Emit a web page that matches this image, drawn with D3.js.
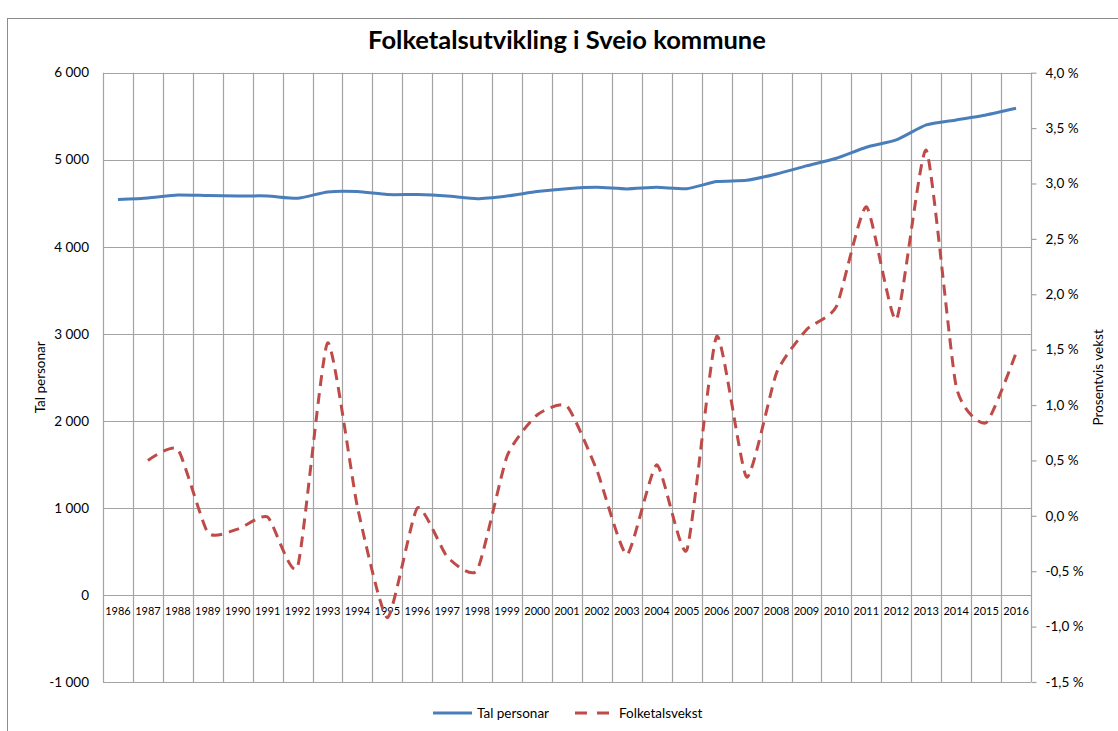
<!DOCTYPE html>
<html><head><meta charset="utf-8">
<script src="https://cdn.jsdelivr.net/npm/d3@7"></script>
<style>
html,body{margin:0;padding:0;background:#fff;}
svg{display:block;font-family:Lato,"Noto Sans",sans-serif;}
</style></head>
<body>
<svg id="c" width="1118" height="731"></svg>
<script>
const years = ["1986","1987","1988","1989","1990","1991","1992","1993","1994","1995","1996","1997","1998","1999","2000","2001","2002","2003","2004","2005","2006","2007","2008","2009","2010","2011","2012","2013","2014","2015","2016"];
const talPersonar = [4542,4561,4596,4588,4584,4584,4557,4630,4634,4600,4600,4584,4553,4584,4634,4668,4684,4665,4684,4668,4749,4764,4837,4929,5017,5144,5228,5400,5457,5515,5592];
const folketalsvekst = [null,0.50,0.60,-0.15,-0.12,-0.01,-0.46,1.56,0.08,-0.92,0.07,-0.37,-0.49,0.54,0.91,0.99,0.41,-0.35,0.46,-0.31,1.62,0.35,1.29,1.68,1.89,2.79,1.77,3.30,1.17,0.84,1.47];
const leftTicks = [-1000,0,1000,2000,3000,4000,5000,6000];
const rightTicks = [-1.5,-1.0,-0.5,0.0,0.5,1.0,1.5,2.0,2.5,3.0,3.5,4.0];
const title = "Folketalsutvikling i Sveio kommune";
const leftTitle = "Tal personar";
const rightTitle = "Prosentvis vekst";
const seriesNames = ["Tal personar","Folketalsvekst"];

const svg = d3.select("#c");
const L = 103, R = 1031, T = 72.7, B = 682;
const blue = "#4a7ebb", red = "#be4b48", grid = "#a3a3a3";

svg.append("rect").attr("x",7.5).attr("y",18.5).attr("width",1200).attr("height",800)
  .attr("fill","#fff").attr("stroke","#8c8c8c");

const x = d3.scaleBand().domain(years).range([L,R]);
const yL = d3.scaleLinear().domain([-1000,6000]).range([B,T]);
const yR = d3.scaleLinear().domain([-1.5,4.0]).range([B,T]);

const fmtL = v => (v<0?"-":"") + d3.format(",")(Math.abs(v)).replace(/,/g," ");
const fmtR = v => d3.format(".1f")(v).replace(".",",").replace("−","-") + " %";

// horizontal grid
svg.append("g").selectAll("line").data(leftTicks).join("line")
  .attr("x1",L).attr("x2",R).attr("y1",d=>Math.round(yL(d))+0.5).attr("y2",d=>Math.round(yL(d))+0.5)
  .attr("stroke",grid).attr("stroke-width",1.2);
// vertical grid at band boundaries
const bounds = years.map(y=>x(y)).concat([R]);
svg.append("g").selectAll("line").data(bounds).join("line")
  .attr("x1",d=>Math.round(d)+0.5).attr("x2",d=>Math.round(d)+0.5).attr("y1",T).attr("y2",B)
  .attr("stroke",grid).attr("stroke-width",1.2);

// left axis labels
svg.append("g").selectAll("text").data(leftTicks).join("text")
  .attr("x",89).attr("y",d=>yL(d)).attr("dy","0.35em").attr("text-anchor","end")
  .attr("font-size",13.5).attr("fill","#000").text(fmtL);

// right axis ticks & labels
const rAxis = d3.axisRight(yR).tickValues(rightTicks).tickSize(5).tickFormat(fmtR).tickPadding(9);
const rg = svg.append("g").attr("transform",`translate(${Math.round(R)+0.5},0)`).call(rAxis);
rg.select(".domain").remove();
rg.selectAll(".tick line").attr("stroke",grid).attr("stroke-width",1.2);
rg.selectAll(".tick text").attr("font-size",13.5).attr("fill","#000").attr("font-family","Lato,'Noto Sans',sans-serif");

// category labels
svg.append("g").selectAll("text").data(years).join("text")
  .attr("x",d=>x(d)+x.bandwidth()/2).attr("y",yL(0)+16).attr("dy","0.35em")
  .attr("text-anchor","middle").attr("font-size",11).attr("fill","#000").text(d=>d);

// lines
const curve = d3.curveCardinal.tension(0.45);
const lineL = d3.line().x((d,i)=>x(years[i])+x.bandwidth()/2).y(d=>yL(d)).curve(curve);
svg.append("path").datum(talPersonar).attr("d",lineL).attr("fill","none")
  .attr("stroke",blue).attr("stroke-width",3).attr("stroke-linejoin","round");

const redPts = folketalsvekst.map((v,i)=>({v,i})).filter(d=>d.v!==null);
const lineR = d3.line().x(d=>x(years[d.i])+x.bandwidth()/2).y(d=>yR(d.v)).curve(curve);
svg.append("path").datum(redPts).attr("d",lineR).attr("fill","none")
  .attr("stroke",red).attr("stroke-width",3).attr("stroke-dasharray","11,7").attr("stroke-linejoin","round");

// title
svg.append("text").attr("x",567).attr("y",40).attr("dy","0.35em").attr("text-anchor","middle")
  .attr("font-size",25.5).attr("font-weight","bold").attr("fill","#000").text(title);

// axis titles
svg.append("text").attr("transform",`translate(40,${(T+B)/2}) rotate(-90)`).attr("dy","0.35em")
  .attr("text-anchor","middle").attr("font-size",13.5).attr("fill","#000").text(leftTitle);
svg.append("text").attr("transform",`translate(1098,${(T+B)/2}) rotate(-90)`).attr("dy","0.35em")
  .attr("text-anchor","middle").attr("font-size",13.5).attr("fill","#000").text(rightTitle);

// legend
const lg = svg.append("g");
lg.append("line").attr("x1",433).attr("x2",472).attr("y1",713).attr("y2",713)
  .attr("stroke",blue).attr("stroke-width",3);
lg.append("text").attr("x",477).attr("y",713).attr("dy","0.35em").attr("font-size",13.5).text(seriesNames[0]);
lg.append("line").attr("x1",575).attr("x2",610).attr("y1",713).attr("y2",713)
  .attr("stroke",red).attr("stroke-width",3).attr("stroke-dasharray","12,10");
lg.append("text").attr("x",619).attr("y",713).attr("dy","0.35em").attr("font-size",13.5).text(seriesNames[1]);
</script>
</body></html>
